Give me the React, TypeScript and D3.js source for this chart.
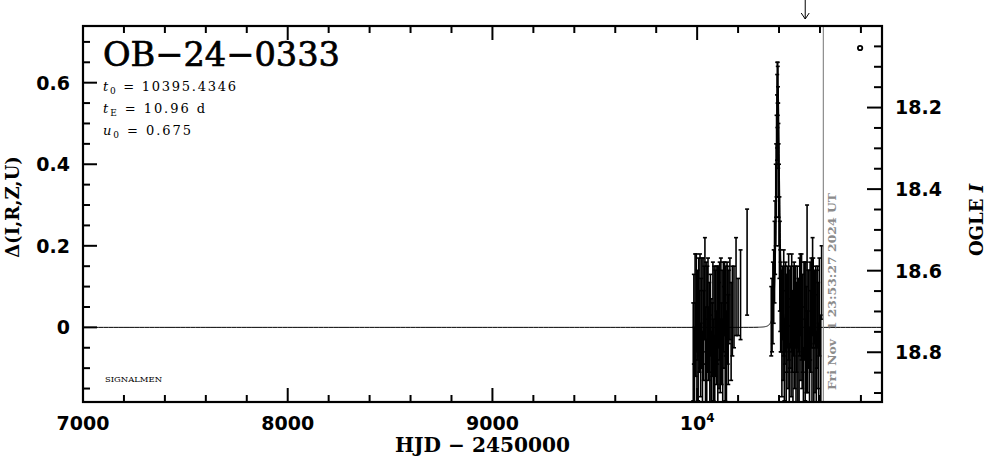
import React from "react";
import * as d3 from "d3";

const W = 986;
const H = 459;

// Event parameters (from the panel text)
const eventName = "OB\u221224\u22120333";
const t0 = 10395.4346;
const tE = 10.96;
const u0 = 0.675;
const baseMag = 18.739;

// Axis ticks
const xMajor = [7000, 8000, 9000, 10000];
const xMajorLabels = ["7000", "8000", "9000", "10"];
const yMajor = [0, 0.2, 0.4, 0.6];
const yMajorLabels = ["0", "0.2", "0.4", "0.6"];
const magMajor = [18.2, 18.4, 18.6, 18.8];
const magMajorLabels = ["18.2", "18.4", "18.6", "18.8"];

// Season 1 photometry (HJD-2450000, delta, error)
const hjd1 = [9981, 9984, 9987, 9990, 9993, 9996, 9999, 10002, 10005, 10008, 10011, 10014, 10017, 10020, 10023, 10026, 10029, 10032, 10035, 10038, 10041, 10044, 10047, 10050, 10053, 10056, 10059, 10062, 10065, 10068, 10071, 10074, 10077, 10080, 10083, 10086, 10089, 10092, 10095, 10098, 10101, 10104, 10107, 10110, 10113, 10116, 10119, 10122, 10125, 10128, 10131, 10134, 10137, 10140, 10143, 10146, 10149, 10152, 10155, 10160, 10166, 10172, 10180, 10190, 10200, 10212, 10244];
const delta1 = [-0.06, 0.02, -0.10, 0.05, -0.03, 0.06, -0.12, 0.03, -0.05, 0.05, -0.01, 0.04, -0.08, 0.01, 0.05, -0.11, 0.04, -0.02, 0.06, 0.12, -0.07, 0.05, -0.13, 0.02, 0.05, -0.04, 0.00, -0.09, 0.03, -0.06, -0.12, -0.03, 0.04, -0.08, 0.04, -0.14, 0.01, 0.05, -0.05, 0.03, -0.10, 0.05, -0.02, 0.04, -0.07, 0.06, -0.04, 0.02, -0.11, 0.05, 0.00, 0.07, -0.06, 0.04, -0.09, 0.06, 0.03, -0.03, 0.05, 0.07, -0.01, 0.04, 0.05, 0.10, 0.05, 0.08, 0.16];
const err1 = [0.12, 0.11, 0.10, 0.13, 0.09, 0.12, 0.10, 0.11, 0.13, 0.12, 0.10, 0.14, 0.09, 0.11, 0.12, 0.10, 0.13, 0.11, 0.09, 0.10, 0.12, 0.11, 0.10, 0.13, 0.12, 0.09, 0.11, 0.12, 0.10, 0.13, 0.11, 0.09, 0.12, 0.10, 0.11, 0.12, 0.13, 0.10, 0.09, 0.12, 0.11, 0.10, 0.13, 0.12, 0.09, 0.11, 0.10, 0.12, 0.13, 0.11, 0.10, 0.09, 0.12, 0.11, 0.13, 0.10, 0.12, 0.11, 0.09, 0.10, 0.12, 0.11, 0.10, 0.12, 0.07, 0.11, 0.13];

// Season 2 photometry: event
const hjd2 = [10362, 10366, 10370, 10374, 10378, 10381, 10384, 10386, 10388, 10390, 10391, 10392, 10393, 10394, 10395, 10396, 10397, 10398, 10400, 10402, 10404, 10406, 10408];
const delta2 = [0.015, 0.03, 0.06, 0.10, 0.16, 0.22, 0.30, 0.36, 0.42, 0.49, 0.53, 0.57, 0.60, 0.58, 0.52, 0.47, 0.41, 0.36, 0.30, 0.22, 0.15, 0.09, 0.05];
const err2 = [0.085, 0.09, 0.10, 0.09, 0.10, 0.09, 0.10, 0.09, 0.10, 0.08, 0.09, 0.08, 0.05, 0.06, 0.07, 0.08, 0.09, 0.09, 0.10, 0.10, 0.11, 0.10, 0.11];

// Season 2 photometry: after the event
const hjd3 = [10411, 10414, 10417, 10420, 10423, 10426, 10429, 10432, 10435, 10438, 10441, 10444, 10447, 10450, 10453, 10456, 10459, 10462, 10465, 10468, 10471, 10474, 10477, 10480, 10483, 10486, 10489, 10492, 10495, 10498, 10501, 10504, 10507, 10510, 10513, 10516, 10519, 10522, 10525, 10528, 10531, 10534, 10537, 10540, 10543, 10546, 10549, 10552, 10555, 10558, 10561, 10564, 10567, 10570, 10573, 10576, 10579, 10582, 10585, 10588, 10591, 10594, 10597, 10604, 10608];
const delta3 = [0.04, -0.05, 0.06, -0.02, 0.06, -0.08, 0.03, 0.05, -0.11, 0.01, 0.05, -0.04, 0.05, -0.13, 0.02, 0.05, -0.06, 0.06, -0.01, -0.09, 0.04, 0.07, -0.03, 0.05, -0.12, 0.00, 0.05, -0.07, 0.03, -0.10, 0.05, 0.08, -0.02, 0.05, -0.05, 0.01, -0.14, 0.05, 0.04, -0.08, 0.05, -0.03, 0.17, -0.06, 0.02, 0.05, -0.11, 0.04, -0.01, 0.06, -0.07, 0.10, 0.06, -0.09, 0.05, -0.04, 0.05, -0.12, 0.02, 0.05, -0.02, -0.10, 0.05, -0.08, 0.11];
const err3 = [0.10, 0.12, 0.09, 0.11, 0.13, 0.10, 0.12, 0.11, 0.09, 0.12, 0.10, 0.11, 0.13, 0.09, 0.12, 0.10, 0.11, 0.12, 0.10, 0.13, 0.11, 0.09, 0.12, 0.10, 0.13, 0.11, 0.10, 0.12, 0.09, 0.11, 0.12, 0.10, 0.11, 0.13, 0.10, 0.12, 0.09, 0.11, 0.12, 0.10, 0.11, 0.13, 0.13, 0.10, 0.12, 0.09, 0.11, 0.12, 0.10, 0.11, 0.12, 0.12, 0.11, 0.13, 0.09, 0.12, 0.10, 0.11, 0.12, 0.10, 0.13, 0.11, 0.12, 0.11, 0.09];

// Markers
const nowHJD = 10616.5;
const nowLabel = "Fri Nov  1 23:53:27 2024 UT";
const arrowHJD = 10528;
const symbolHJD = 10796;
const symbolDelta = 0.685;

function magnification(u: number) {
  return (u * u + 2) / (u * Math.sqrt(u * u + 4));
}

export default function App() {
  const L = 83, R = 882, T = 26, B = 402;
  const x = d3.scaleLinear().domain([7000, 10903]).range([L, R]);
  const y = d3.scaleLinear().domain([-0.183, 0.739]).range([B, T]);
  const ym = d3.scaleLinear().domain([baseMag + 0.183, baseMag - 0.739]).range([B, T]);

  const xMinor = d3.range(7200, 10901, 200).filter((v) => v % 1000 !== 0);
  const yMinor = d3.range(-0.15, 0.73, 0.05).filter((v) => Math.abs(v / 0.2 - Math.round(v / 0.2)) > 1e-6);
  const magMinor = d3.range(18.05, 18.92, 0.05).filter((v) => Math.abs(v * 5 - Math.round(v * 5)) > 1e-6);

  const modelT = [
    ...d3.range(7000, 10300, 25),
    ...d3.range(10300, 10500, 0.5),
    ...d3.range(10500, 10904, 25),
    10903,
  ];
  const model = modelT.map((t) => {
    const tau = (t - t0) / tE;
    const u = Math.sqrt(u0 * u0 + tau * tau);
    return [t, 2.5 * Math.log10(magnification(u))] as [number, number];
  });
  const line = d3.line<[number, number]>().x((d) => x(d[0])).y((d) => y(d[1]));

  const points: { t: number; d: number; e: number }[] = [];
  [[hjd1, delta1, err1], [hjd2, delta2, err2], [hjd3, delta3, err3]].forEach(([ts, ds, es]) => {
    ts.forEach((t, i) => points.push({ t, d: ds[i], e: es[i] }));
  });

  const tickW = 2;
  const serif = "'DejaVu Serif', serif";
  const sans = "'DejaVu Sans', sans-serif";

  return (
    <svg width={W} height={H} style={{ position: "absolute", left: 0, top: 0, background: "#fff" }}>
      <defs>
        <clipPath id="plotclip">
          <rect x={L} y={T} width={R - L} height={B - T} />
        </clipPath>
      </defs>

      {/* data error bars */}
      <g clipPath="url(#plotclip)" stroke="#000" strokeWidth={1.6}>
        {points.map((p, i) => {
          const xx = x(p.t);
          const y1 = y(p.d - p.e);
          const y2 = y(p.d + p.e);
          return (
            <g key={i}>
              <line x1={xx} x2={xx} y1={y1} y2={y2} />
              <line x1={xx - 2} x2={xx + 2} y1={y1} y2={y1} />
              <line x1={xx - 2} x2={xx + 2} y1={y2} y2={y2} />
            </g>
          );
        })}
      </g>

      {/* model */}
      <path d={line(model) || ""} fill="none" stroke="#000" strokeWidth={1} clipPath="url(#plotclip)" />

      {/* current time line */}
      <line x1={x(nowHJD)} x2={x(nowHJD)} y1={T} y2={B} stroke="#8c8c8c" strokeWidth={1.2} />
      <text
        transform={`translate(${x(nowHJD) + 13},${B - 12}) rotate(-90)`}
        fontFamily={serif}
        fontWeight="bold"
        fontSize={11}
        fill="#8c8c8c"
        textLength={197}
        lengthAdjust="spacingAndGlyphs"
        style={{ whiteSpace: "pre" }}
      >
        {nowLabel}
      </text>

      {/* arrow at top */}
      <g stroke="#000" strokeWidth={1} fill="none">
        <line x1={x(arrowHJD)} x2={x(arrowHJD)} y1={0} y2={19} />
        <polyline points={`${x(arrowHJD) - 4},${13} ${x(arrowHJD)},${19} ${x(arrowHJD) + 4},${13}`} />
      </g>

      {/* small symbol */}
      <circle cx={x(symbolHJD)} cy={y(symbolDelta)} r={2.2} fill="none" stroke="#000" strokeWidth={1.8} />

      {/* frame */}
      <rect x={L} y={T} width={R - L} height={B - T} fill="none" stroke="#000" strokeWidth={2.2} />

      {/* ticks */}
      <g stroke="#000" strokeWidth={tickW}>
        {xMajor.map((v) => (
          <g key={"xM" + v}>
            <line x1={x(v)} x2={x(v)} y1={B} y2={B - 14} />
            <line x1={x(v)} x2={x(v)} y1={T} y2={T + 14} />
          </g>
        ))}
        {xMinor.map((v) => (
          <g key={"xm" + v}>
            <line x1={x(v)} x2={x(v)} y1={B} y2={B - 7} />
            <line x1={x(v)} x2={x(v)} y1={T} y2={T + 7} />
          </g>
        ))}
        {yMajor.map((v) => (
          <line key={"yM" + v} x1={L} x2={L + 14} y1={y(v)} y2={y(v)} />
        ))}
        {yMinor.map((v) => (
          <line key={"ym" + v} x1={L} x2={L + 7} y1={y(v)} y2={y(v)} />
        ))}
        {magMajor.map((v) => (
          <line key={"mM" + v} x1={R} x2={R - 15} y1={ym(v)} y2={ym(v)} />
        ))}
        {magMinor.map((v) => (
          <line key={"mm" + v} x1={R} x2={R - 8} y1={ym(v)} y2={ym(v)} />
        ))}
      </g>

      {/* tick labels */}
      <g fontFamily={sans} fontWeight="bold" fontSize={19} fill="#000">
        {xMajor.map((v, i) => (
          <text key={"xl" + v} x={x(v)} y={430} textAnchor="middle">
            {xMajorLabels[i]}
            {v === 10000 ? (
              <tspan fontSize={12} dy={-8}>4</tspan>
            ) : null}
          </text>
        ))}
        {yMajor.map((v, i) => (
          <text key={"yl" + v} x={70} y={y(v)} dy="0.36em" textAnchor="end">
            {yMajorLabels[i]}
          </text>
        ))}
        {magMajor.map((v, i) => (
          <text key={"ml" + v} x={895} y={ym(v)} dy="0.36em" textAnchor="start">
            {magMajorLabels[i]}
          </text>
        ))}
      </g>

      {/* axis titles */}
      <text x={(L + R) / 2} y={452} textAnchor="middle" fontFamily={serif} fontWeight="bold" fontSize={20} textLength={175} lengthAdjust="spacingAndGlyphs">
        HJD {"\u2212"} 2450000
      </text>
      <text transform="translate(19,207) rotate(-90)" textAnchor="middle" fontFamily={serif} fontWeight="bold" fontSize={18}>
        {"\u0394(I,R,Z,U)"}
      </text>
      <text transform="translate(983,220) rotate(-90)" textAnchor="middle" fontFamily={serif} fontWeight="bold" fontSize={18}>
        OGLE <tspan fontStyle="italic">I</tspan>
      </text>

      {/* title and parameters */}
      <text x={103} y={66} fontFamily={serif} fontSize={34} stroke="#000" strokeWidth={0.7} textLength={237} lengthAdjust="spacingAndGlyphs">
        {eventName}
      </text>
      <g fontFamily={serif} fontSize={13}>
        <text x={103} y={91} textLength={133} lengthAdjust="spacing">
          <tspan fontStyle="italic">t</tspan>
          <tspan fontSize={9} dy={3}>0</tspan>
          <tspan dy={-3}>{" = " + t0.toFixed(4)}</tspan>
        </text>
        <text x={103} y={113} textLength={102} lengthAdjust="spacing">
          <tspan fontStyle="italic">t</tspan>
          <tspan fontSize={9} dy={3}>E</tspan>
          <tspan dy={-3}>{" = " + tE.toFixed(2) + " d"}</tspan>
        </text>
        <text x={103} y={135} textLength={88} lengthAdjust="spacing">
          <tspan fontStyle="italic">u</tspan>
          <tspan fontSize={9} dy={3}>0</tspan>
          <tspan dy={-3}>{" = " + u0.toFixed(3)}</tspan>
        </text>
      </g>

      <text x={105} y={382} fontFamily={serif} fontSize={8} textLength={57} lengthAdjust="spacingAndGlyphs">
        SIGNALMEN
      </text>
    </svg>
  );
}
